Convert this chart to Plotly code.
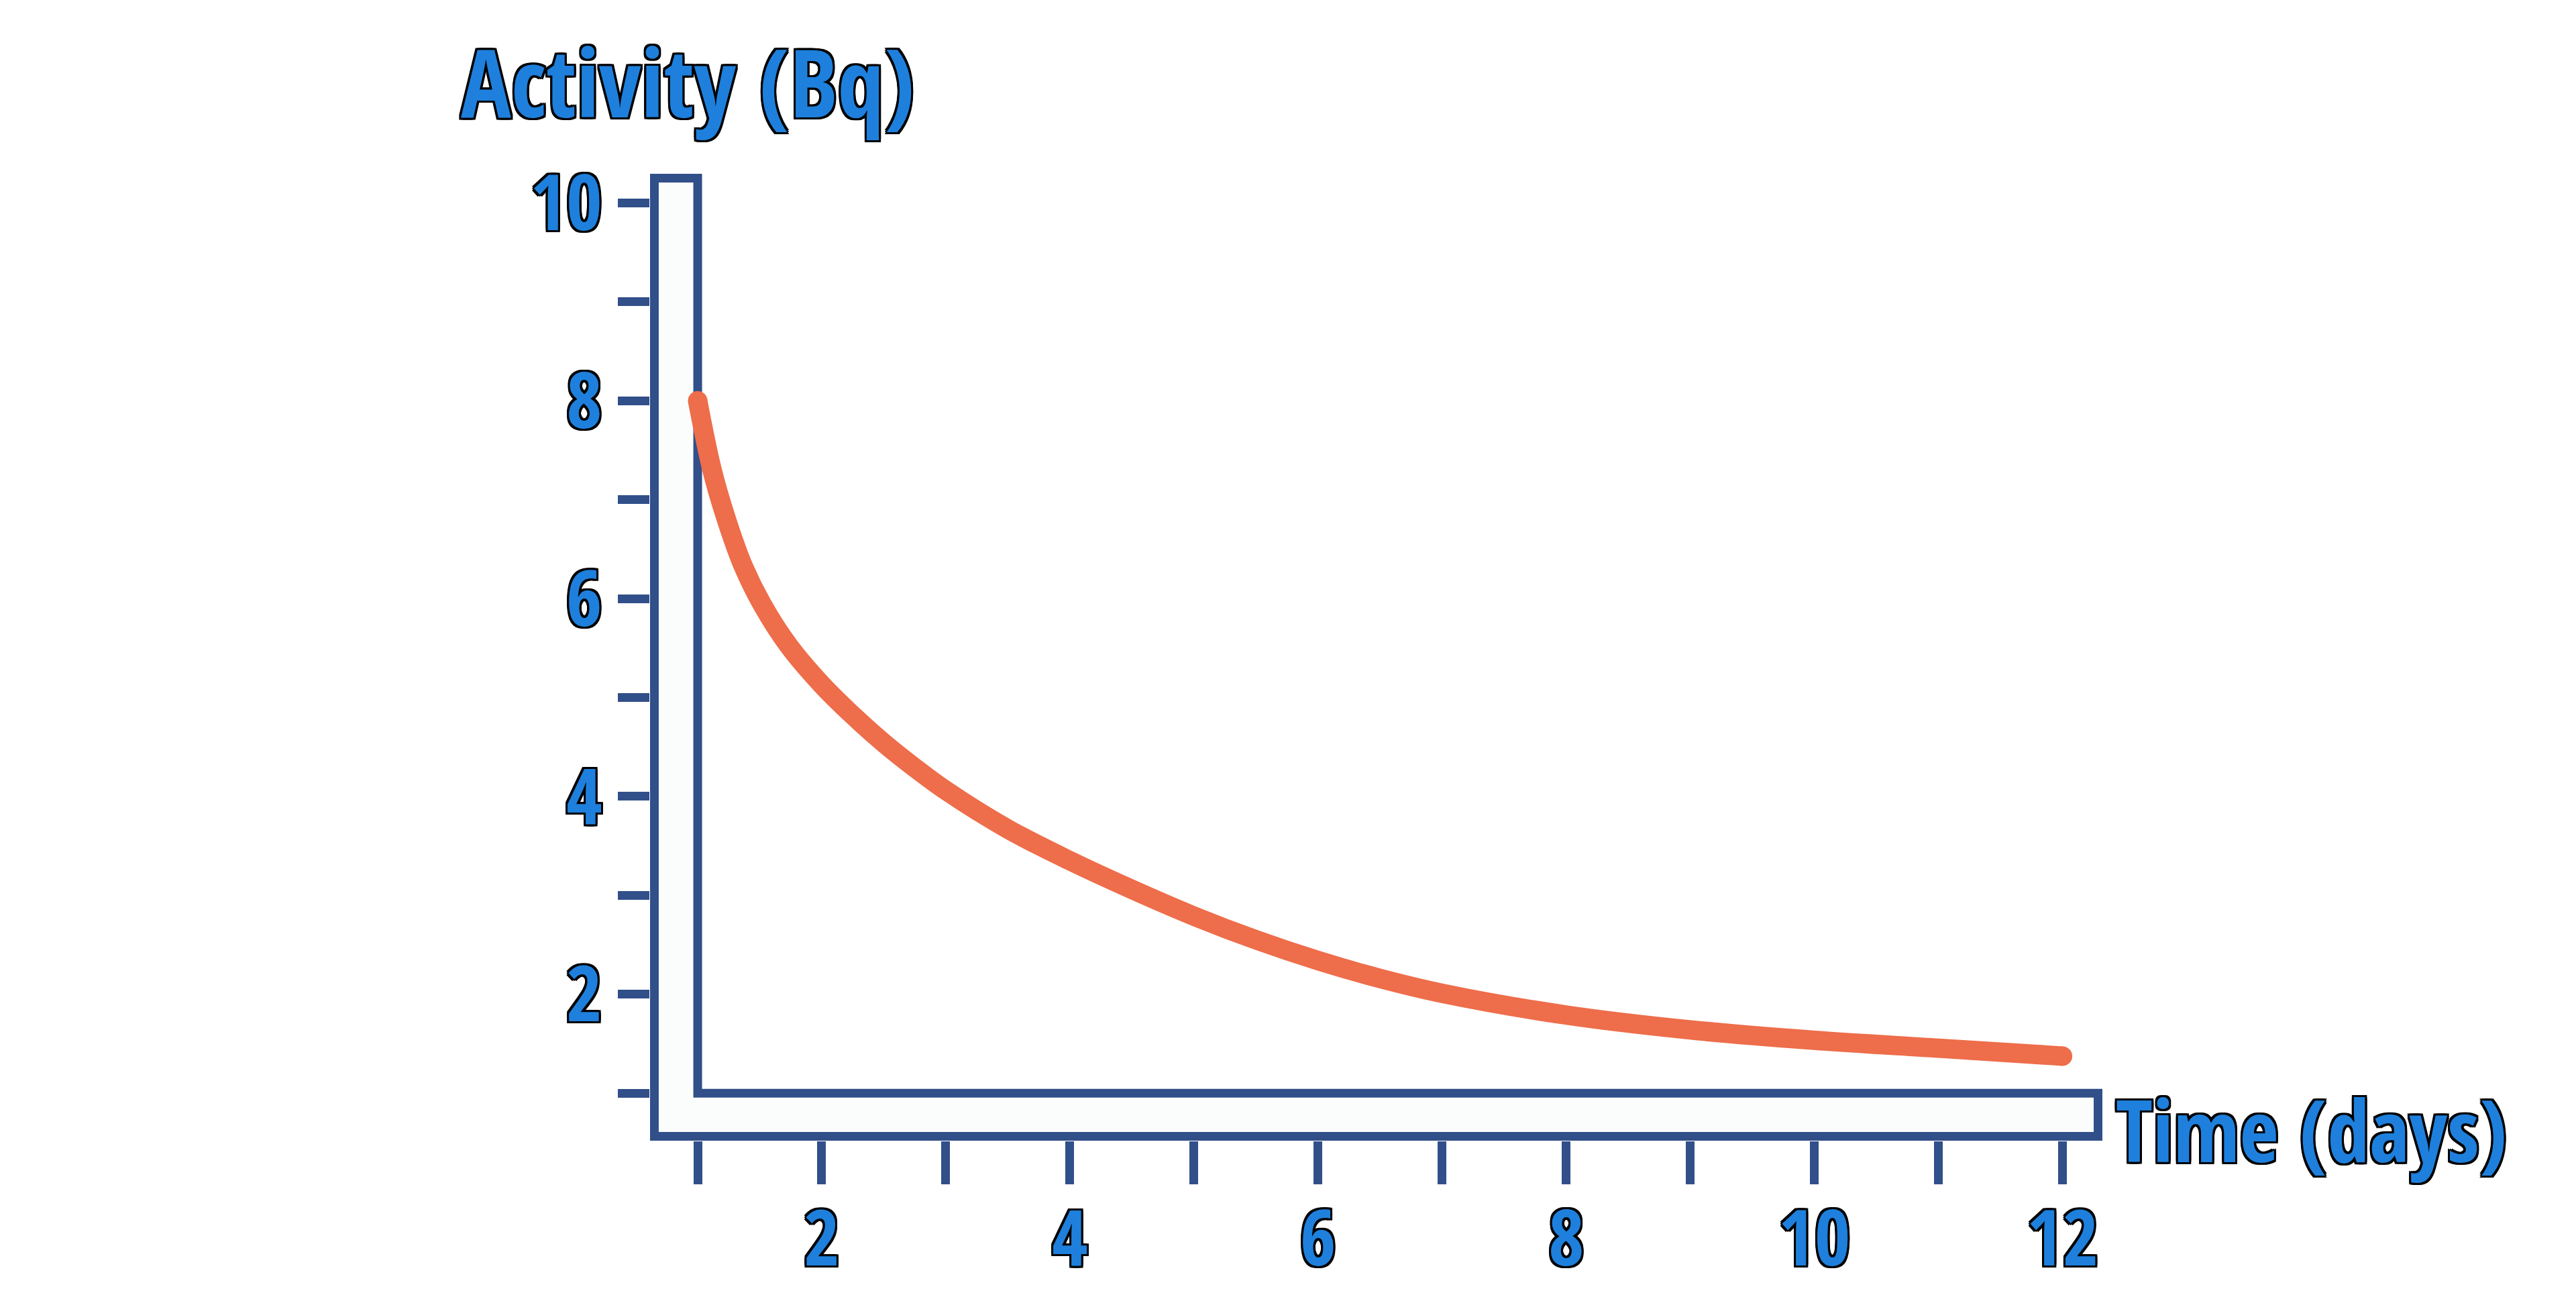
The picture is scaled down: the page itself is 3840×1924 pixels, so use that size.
import plotly.graph_objects as go

# --- dados ---
time_days = [1.0, 1.12, 1.25, 1.37, 1.52, 1.73, 2.0, 2.25, 2.5, 2.75, 3.0, 3.5,
             4.0, 4.5, 5.0, 5.5, 6.0, 6.5, 7.0, 8.0, 9.0, 10.0, 11.0, 12.0]
activity_bq = [8.0, 7.28, 6.73, 6.32, 5.94, 5.53, 5.13, 4.82, 4.54, 4.29, 4.06, 3.67,
               3.35, 3.06, 2.79, 2.55, 2.34, 2.16, 2.01, 1.79, 1.64, 1.535, 1.455, 1.375]

x_ticks = list(range(1, 13))
x_ticklabels = ['', '2', '', '4', '', '6', '', '8', '', '10', '', '12']
y_ticks = list(range(1, 11))
y_ticklabels = ['', '2', '', '4', '', '6', '', '8', '', '10']

AXIS_BLUE = '#314f89'
TEXT_BLUE = '#1e80dc'
CURVE = '#ee6d4a'
FONT = 'Open Sans Condensed, Roboto Condensed, sans-serif'
OUTLINE = ('3px 3px 0 #000, -3px -3px 0 #000, 3px -3px 0 #000, -3px 3px 0 #000, '
           '0 3px 0 #000, 0 -3px 0 #000, 3px 0 0 #000, -3px 0 0 #000')

# contorno do "eixo" em forma de L (barras ocas)
x_out, x_in, x_end = 0.651, 1.0, 12.286
y_out, y_in, y_top = 0.564, 1.0, 10.25

fig = go.Figure()
fig.add_trace(go.Scatter(
    x=time_days, y=activity_bq, mode='lines',
    line=dict(color=CURVE, width=29, shape='spline', smoothing=1.0),
    hoverinfo='skip', showlegend=False
))
# pontas arredondadas da curva
fig.add_trace(go.Scatter(
    x=[time_days[0], time_days[-1]], y=[activity_bq[0], activity_bq[-1]],
    mode='markers', marker=dict(color=CURVE, size=29),
    hoverinfo='skip', showlegend=False
))

fig.add_shape(
    type='path', xref='x', yref='y', layer='below',
    path=(f'M {x_out},{y_out} L {x_out},{y_top} L {x_in},{y_top} L {x_in},{y_in} '
          f'L {x_end},{y_in} L {x_end},{y_out} Z'),
    line=dict(color=AXIS_BLUE, width=13), fillcolor='#fbfdfd'
)

tick_font = dict(family=FONT, size=116, color=TEXT_BLUE, weight='bold', shadow=OUTLINE)

fig.update_layout(
    width=3840, height=1924,
    margin=dict(l=961, r=714, t=251, b=216, pad=0),
    paper_bgcolor='white', plot_bgcolor='rgba(0,0,0,0)',
    xaxis=dict(
        range=[0.616, 12.321], tickvals=x_ticks, ticktext=x_ticklabels,
        ticks='outside', ticklen=64, tickwidth=13, tickcolor=AXIS_BLUE,
        ticklabelstandoff=-18,
        showgrid=False, zeroline=False, showline=False, tickfont=tick_font
    ),
    yaxis=dict(
        range=[0.520, 10.294], tickvals=y_ticks, ticktext=y_ticklabels,
        ticks='outside', ticklen=47, tickwidth=13, tickcolor=AXIS_BLUE,
        showgrid=False, zeroline=False, showline=False, tickfont=tick_font
    ),
    annotations=[
        dict(text='Activity (Bq)', xref='paper', yref='paper', x=0.026, y=1.096,
             xanchor='center', yanchor='middle', showarrow=False,
             font=dict(family=FONT, size=140, color=TEXT_BLUE, weight='bold', shadow=OUTLINE)),
        dict(text='Time (days)', xref='paper', yref='paper', x=1.0084, y=0.012,
             xanchor='left', yanchor='middle', showarrow=False,
             font=dict(family=FONT, size=127, color=TEXT_BLUE, weight='bold', shadow=OUTLINE)),
    ]
)

fig.write_html('out.html')
